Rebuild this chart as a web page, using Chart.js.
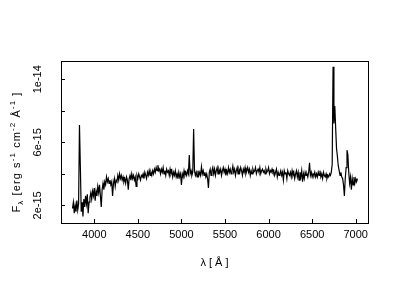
<!DOCTYPE html>
<html>
<head>
<meta charset="utf-8">
<script src="https://cdn.jsdelivr.net/npm/chart.js"></script>
<style>
  html, body { margin: 0; padding: 0; background: #fff; }
  canvas { display: block; }
</style>
</head>
<body>
<canvas id="spec" width="400" height="300"></canvas>
<script>
// ---------- DATA ----------
// wavelength in Angstrom
const wavelength = [
  3750, 3760, 3770, 3780, 3790, 3800, 3810, 3820, 3830, 3840,
  3850, 3860, 3870, 3880, 3890, 3900, 3910, 3920, 3930, 3940,
  3950, 3960, 3970, 3980, 3990, 4000, 4010, 4020, 4030, 4040,
  4050, 4060, 4070, 4080, 4090, 4100, 4110, 4120, 4130, 4140,
  4150, 4160, 4170, 4180, 4190, 4200, 4210, 4220, 4230, 4240,
  4250, 4260, 4270, 4280, 4290, 4300, 4310, 4320, 4330, 4340,
  4350, 4360, 4370, 4380, 4390, 4400, 4410, 4420, 4430, 4440,
  4450, 4460, 4470, 4480, 4490, 4500, 4510, 4520, 4530, 4540,
  4550, 4560, 4570, 4580, 4590, 4600, 4610, 4620, 4630, 4640,
  4650, 4660, 4670, 4680, 4690, 4700, 4710, 4720, 4730, 4740,
  4750, 4760, 4770, 4780, 4790, 4800, 4810, 4820, 4830, 4840,
  4850, 4860, 4870, 4880, 4890, 4900, 4910, 4920, 4930, 4940,
  4950, 4960, 4970, 4980, 4990, 5000, 5010, 5020, 5030, 5040,
  5050, 5060, 5070, 5080, 5090, 5100, 5110, 5120, 5130, 5140,
  5150, 5160, 5170, 5180, 5190, 5200, 5210, 5220, 5230, 5240,
  5250, 5260, 5270, 5280, 5290, 5300, 5310, 5320, 5330, 5340,
  5350, 5360, 5370, 5380, 5390, 5400, 5410, 5420, 5430, 5440,
  5450, 5460, 5470, 5480, 5490, 5500, 5510, 5520, 5530, 5540,
  5550, 5560, 5570, 5580, 5590, 5600, 5610, 5620, 5630, 5640,
  5650, 5660, 5670, 5680, 5690, 5700, 5710, 5720, 5730, 5740,
  5750, 5760, 5770, 5780, 5790, 5800, 5810, 5820, 5830, 5840,
  5850, 5860, 5870, 5880, 5890, 5900, 5910, 5920, 5930, 5940,
  5950, 5960, 5970, 5980, 5990, 6000, 6010, 6020, 6030, 6040,
  6050, 6060, 6070, 6080, 6090, 6100, 6110, 6120, 6130, 6140,
  6150, 6160, 6170, 6180, 6190, 6200, 6210, 6220, 6230, 6240,
  6250, 6260, 6270, 6280, 6290, 6300, 6310, 6320, 6330, 6340,
  6350, 6360, 6370, 6380, 6390, 6400, 6410, 6420, 6430, 6440,
  6450, 6460, 6470, 6480, 6490, 6500, 6510, 6520, 6530, 6540,
  6550, 6560, 6570, 6580, 6590, 6600, 6610, 6620, 6630, 6640,
  6650, 6660, 6670, 6680, 6690, 6700, 6710, 6720, 6730, 6740,
  6750, 6760, 6770, 6780, 6790, 6800, 6810, 6820, 6830, 6840,
  6850, 6860, 6870, 6880, 6890, 6900, 6910, 6920, 6930, 6940,
  6950, 6960, 6970, 6980, 6990, 7000, 7010, 7020
];

// flux, in units of 1e-15 erg/s/cm2/A
const flux = [
  1.8, 2.2, 1.5, 2.0, 1.6, 2.3, 1.7, 2.1, 7.1, 4.5,
  1.6, 2.2, 1.3, 2.4, 1.9, 2.6, 2.1, 2.7, 1.5, 2.2,
  2.5, 2.8, 2.4, 2.9, 2.6, 3.1, 2.3, 2.9, 2.6, 3.2,
  2.8, 3.3, 2.6, 1.9, 3.0, 3.4, 3.0, 3.5, 3.3, 3.8,
  3.5, 3.7, 3.4, 3.6, 3.3, 3.5, 2.6, 3.4, 3.7, 3.2,
  3.6, 3.5, 3.9, 3.6, 4.0, 3.7, 3.9, 3.6, 3.8, 3.5,
  3.7, 3.4, 3.8, 3.6, 3.0, 3.7, 3.9, 3.6, 4.0, 3.7,
  3.9, 3.6, 3.8, 3.2, 3.9, 3.7, 4.0, 3.8, 3.6, 3.9,
  3.8, 4.0, 3.7, 4.1, 3.9, 3.7, 4.1, 3.9, 4.2, 3.9,
  4.1, 3.9, 4.2, 4.0, 4.3, 4.1, 4.4, 4.2, 4.55, 4.2,
  4.3, 4.0, 4.3, 4.1, 4.4, 4.0, 4.2, 3.9, 4.3, 4.1,
  4.2, 3.9, 4.3, 4.0, 4.2, 3.8, 4.1, 3.9, 4.2, 3.8,
  4.0, 3.7, 4.1, 3.8, 4.0, 3.3, 4.0, 3.8, 4.2, 3.9,
  4.1, 3.9, 4.2, 4.0, 5.2, 4.0, 4.2, 3.9, 4.1, 6.85,
  4.2, 3.9, 4.1, 3.8, 4.2, 3.9, 4.1, 3.9, 4.45, 4.0,
  4.2, 3.9, 4.1, 3.8, 4.0, 3.7, 3.1, 4.1, 4.3, 3.9,
  4.2, 4.4, 4.0, 4.3, 3.9, 4.2, 4.4, 4.0, 4.3, 4.1,
  4.3, 3.9, 4.2, 4.4, 4.1, 4.3, 3.9, 4.2, 4.0, 4.4,
  4.1, 4.3, 4.0, 4.2, 4.5, 4.1, 4.3, 3.9, 4.2, 4.4,
  4.0, 4.3, 4.1, 4.4, 4.2, 3.9, 4.3, 4.1, 4.4, 4.0,
  4.2, 4.4, 4.1, 4.3, 3.9, 4.2, 4.0, 4.3, 4.1, 4.2,
  4.4, 4.0, 4.2, 4.3, 4.1, 4.4, 4.0, 4.2, 4.3, 4.1,
  4.2, 4.0, 4.3, 4.1, 4.2, 4.4, 4.0, 4.2, 4.1, 4.3,
  4.1, 4.2, 3.9, 4.1, 4.3, 3.8, 4.1, 3.9, 4.0, 4.2,
  3.9, 4.1, 3.6, 4.2, 4.0, 4.1, 3.7, 4.2, 4.0, 3.9,
  4.1, 3.8, 4.2, 3.9, 4.1, 3.7, 4.0, 4.2, 3.8, 4.1,
  3.6, 4.1, 3.8, 4.2, 3.5, 4.0, 3.7, 4.1, 3.9, 4.0,
  3.8, 4.1, 4.7, 3.9, 4.1, 3.8, 4.0, 3.9, 4.1, 3.8,
  4.0, 3.8, 4.1, 3.9, 4.2, 3.8, 4.0, 3.7, 4.1, 3.9,
  3.8, 4.0, 3.7, 3.9, 3.8, 4.0, 3.9, 4.1, 4.6, 10.8,
  7.2, 8.3, 6.9, 5.6, 5.1, 4.5, 4.2, 3.9, 4.1, 3.8,
  3.7, 3.3, 2.6, 3.7, 4.4, 5.5, 5.2, 4.1, 3.4, 3.8,
  3.0, 3.7, 3.3, 3.8, 3.4, 3.7, 3.5, 3.7
];

// ticks
const xTickValues = [4000, 4500, 5000, 5500, 6000, 6500, 7000];
const yTickValues = [2, 4, 6, 8, 10];          // units of 1e-15
const yLabelValues = [2, 6, 10];
const yLabelTexts = ["2e-15", "6e-15", "1e-14"];
const xTitle = "\u03bb [ \u00c5 ]";
// y title pieces: [text, kind]
const yTitle = [
  ["F", "n"], ["\u03bb", "sub"], [" [erg s", "n"], ["-1", "sup"],
  [" cm", "n"], ["-2", "sup"], [" \u00c5", "n"], ["-1", "sup"], [" ]", "n"]
];

const FONT = '"Liberation Sans", Arial, sans-serif';

// ---------- box + inward ticks ----------
const framePlugin = {
  id: "frame",
  afterDatasetsDraw(chart) {
    const { ctx, chartArea: a, scales } = chart;
    ctx.save();
    ctx.strokeStyle = "#000";
    ctx.lineWidth = 1;
    ctx.strokeRect(a.left + 0.5, a.top + 0.5, a.right - a.left, a.bottom - a.top);
    ctx.beginPath();
    scales.x.ticks.forEach(t => {
      const px = Math.round(scales.x.getPixelForValue(t.value)) + 0.5;
      ctx.moveTo(px, a.bottom);
      ctx.lineTo(px, a.bottom - 4);
    });
    scales.y.ticks.forEach(t => {
      const py = Math.round(scales.y.getPixelForValue(t.value)) + 0.5;
      ctx.moveTo(a.left, py);
      ctx.lineTo(a.left + 4, py);
    });
    ctx.stroke();
    ctx.restore();
  }
};

// ---------- rotated y title with sub/superscripts ----------
const yTitlePlugin = {
  id: "yTitle",
  afterDraw(chart) {
    const ctx = chart.ctx;
    const sizeOf = k => (k === "n" ? 11 : 8);
    const gap = 1.1; // extra spacing between characters
    ctx.save();
    let total = 0;
    yTitle.forEach(([t, k]) => {
      ctx.font = sizeOf(k) + "px " + FONT;
      for (const ch of t) total += ctx.measureText(ch).width + gap;
    });
    ctx.translate(20, 152 + total / 2);
    ctx.rotate(-Math.PI / 2);
    ctx.fillStyle = "#000";
    ctx.textBaseline = "alphabetic";
    let x = 0;
    yTitle.forEach(([t, k]) => {
      ctx.font = sizeOf(k) + "px " + FONT;
      const dy = k === "sub" ? 3 : k === "sup" ? -5 : 0;
      for (const ch of t) {
        ctx.fillText(ch, x, dy);
        x += ctx.measureText(ch).width + gap;
      }
    });
    ctx.restore();
  }
};

new Chart(document.getElementById("spec"), {
  type: "line",
  data: {
    datasets: [{
      data: wavelength.map((w, i) => ({ x: w, y: flux[i] })),
      borderColor: "#000",
      borderWidth: 1.2,
      pointRadius: 0,
      tension: 0,
      fill: false
    }]
  },
  options: {
    responsive: false,
    animation: false,
    layout: { padding: { top: 61, right: 32, left: 0, bottom: 0 } },
    plugins: { legend: { display: false }, tooltip: { enabled: false } },
    scales: {
      x: {
        type: "linear",
        min: 3618,
        max: 7141,
        grid: { display: false, drawTicks: false },
        border: { display: false },
        afterBuildTicks: s => { s.ticks = xTickValues.map(v => ({ value: v })); },
        ticks: {
          autoSkip: false,
          maxRotation: 0,
          padding: 5,
          color: "#000",
          font: { family: FONT, size: 11 },
          callback: v => String(v)
        },
        title: {
          display: true,
          text: xTitle,
          color: "#000",
          font: { family: FONT, size: 11 },
          padding: { top: 0, bottom: 30 }
        },
        afterFit: s => { s.height = 77; }
      },
      y: {
        min: 0.88,
        max: 11.16,
        grid: { display: false, drawTicks: false },
        border: { display: false },
        afterBuildTicks: s => { s.ticks = yTickValues.map(v => ({ value: v })); },
        ticks: {
          autoSkip: false,
          minRotation: 90,
          maxRotation: 90,
          crossAlign: "center",
          padding: 9,
          color: "#000",
          font: { family: FONT, size: 11 },
          callback: v => {
            const i = yLabelValues.indexOf(v);
            return i >= 0 ? yLabelTexts[i] : "";
          }
        },
        afterFit: s => { s.width = 61; }
      }
    }
  },
  plugins: [framePlugin, yTitlePlugin]
});
</script>
</body>
</html>
